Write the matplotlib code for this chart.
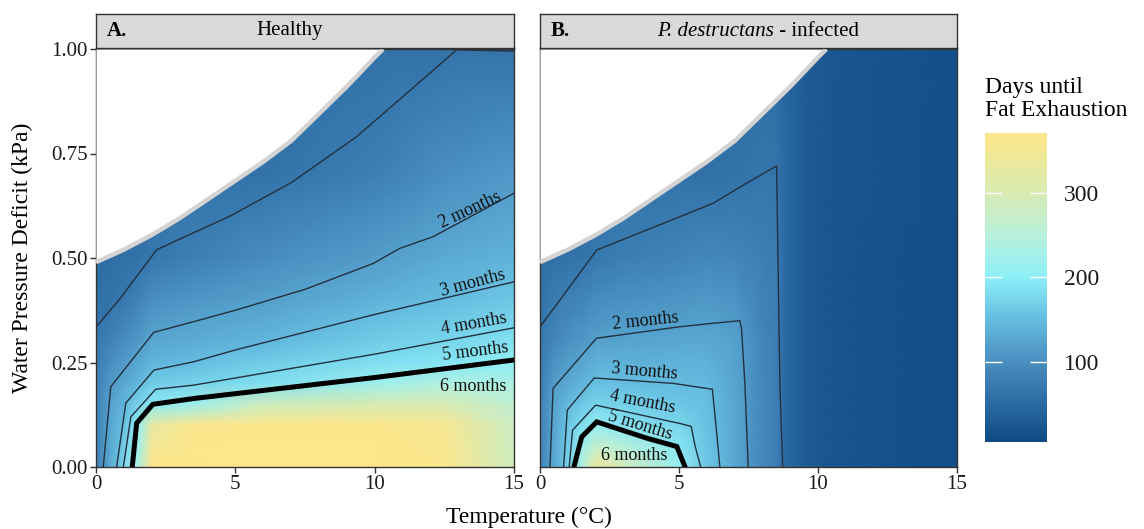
import numpy as np
import matplotlib.pyplot as plt
from matplotlib.colors import LinearSegmentedColormap, Normalize

plt.rcParams['font.family'] = ['Liberation Serif', 'DejaVu Serif']

# ---- data ----
# healthy bats: days until fat exhaustion on a temperature x VPD grid
temp_a = [0, 0.5, 1, 1.5, 2, 3.5, 6, 10, 12.5, 15]
vpd_a = [0, 0.1, 0.15, 0.2, 0.25, 0.3, 0.4, 0.5, 0.7, 1.0]
days_a = [
    [85, 130, 178, 235, 371, 371, 371, 371, 365, 285],
    [82, 125, 155, 205, 330, 365, 368, 368, 355, 280],
    [80, 122, 143, 172, 198, 220, 285, 300, 300, 260],
    [78, 112, 129, 144, 166, 172, 185, 220, 240, 235],
    [75, 98, 115, 128, 143, 151, 166, 185, 192, 205],
    [70, 84, 100, 112, 127, 135, 145, 166, 175, 187],
    [60, 62, 70, 85, 100, 110, 120, 140, 150, 161],
    [55, 57, 60, 62, 68, 82, 97, 117, 132, 141],
    [50, 52, 55, 57, 60, 62, 62, 80, 100, 113],
    [45, 48, 50, 52, 55, 58, 55, 60, 63, 65],
]

# infected bats
temp_b = [0, 0.5, 1, 1.5, 2, 3, 5, 6, 7, 8, 8.5, 8.8, 9.5, 10.5, 12, 15]
vpd_b = [0, 0.05, 0.1, 0.15, 0.2, 0.3, 0.5, 0.7, 1.0]
days_b = [
    [85, 128, 172, 240, 340, 290, 215, 160, 128, 90, 82, 50, 32, 21, 17, 12],
    [84, 127, 165, 215, 270, 250, 192, 158, 128, 90, 82, 50, 32, 21, 17, 12],
    [82, 125, 158, 185, 210, 190, 175, 156, 127, 90, 82, 50, 32, 21, 17, 12],
    [80, 123, 148, 160, 174, 168, 162, 153, 127, 90, 82, 50, 32, 21, 17, 12],
    [77, 117, 130, 142, 155, 152, 150, 148, 126, 90, 82, 50, 32, 21, 17, 12],
    [70, 90, 105, 112, 122, 125, 128, 130, 123, 88, 80, 50, 32, 21, 17, 12],
    [55, 60, 62, 62, 70, 78, 86, 92, 88, 80, 76, 50, 32, 21, 17, 12],
    [50, 55, 56, 57, 60, 62, 62, 60, 62, 67, 66, 48, 32, 22, 18, 13],
    [45, 50, 52, 52, 55, 57, 57, 56, 56, 55, 55, 45, 33, 24, 19, 14],
]

# saturation limit (no data above it)
limit_t = [0, 1, 2, 3, 4, 5, 6, 7, 8, 9, 10, 10.3]
limit_vpd = [0.49, 0.52, 0.555, 0.595, 0.64, 0.685, 0.73, 0.78, 0.845, 0.91, 0.98, 1.0]

# contour lines, healthy
a_c1_t = [0, 0.83, 2.18, 4.8, 7.0, 9.35, 11.15, 12.94, 15]
a_c1_v = [0.335, 0.40, 0.52, 0.60, 0.68, 0.79, 0.894, 0.998, 0.995]
a_c2_t = [0.26, 0.53, 2.07, 3.52, 5.05, 7.5, 9.95, 10.9, 12.1, 15]
a_c2_v = [0, 0.192, 0.322, 0.348, 0.376, 0.425, 0.487, 0.523, 0.551, 0.655]
a_c3_t = [0.74, 1.07, 2.08, 3.52, 5, 10, 15]
a_c3_v = [0, 0.153, 0.232, 0.252, 0.28, 0.365, 0.443]
a_c4_t = [0.98, 1.25, 2.14, 3.52, 10, 15]
a_c4_v = [0, 0.12, 0.186, 0.196, 0.27, 0.333]
a_thick_t = [1.3, 1.46, 2.04, 3.52, 10, 15]
a_thick_v = [0, 0.105, 0.15, 0.164, 0.214, 0.256]

# contour lines, infected
b_c1_t = [0, 2.04, 5.04, 6.23, 7.43, 8.45, 8.51, 8.56, 8.63, 8.73]
b_c1_v = [0.335, 0.519, 0.599, 0.631, 0.679, 0.718, 0.72, 0.5, 0.2, 0]
b_c2_t = [0.36, 0.47, 2.03, 4.96, 6.23, 7.19, 7.25, 7.37, 7.49]
b_c2_v = [0, 0.188, 0.308, 0.335, 0.344, 0.35, 0.33, 0.2, 0]
b_c3_t = [0.85, 0.98, 1.95, 4.8, 6.2, 6.3, 6.47]
b_c3_v = [0, 0.136, 0.213, 0.200, 0.186, 0.12, 0]
b_c4_t = [1.05, 1.17, 2.0, 5.04, 5.44, 5.58, 5.78]
b_c4_v = [0, 0.088, 0.148, 0.104, 0.097, 0.05, 0]
b_thick_t = [1.22, 1.5, 2.04, 3.1, 3.84, 4.92, 5.22]
b_thick_v = [0, 0.072, 0.108, 0.085, 0.069, 0.049, 0]

month_labels = ['2 months', '3 months', '4 months', '5 months', '6 months']

W, H = 1144, 529


def box(x0, y0, x1, y1):
    return [x0 / W, 1 - y1 / H, (x1 - x0) / W, (y1 - y0) / H]


cmap = LinearSegmentedColormap.from_list('fat', [
    (0.0, '#0f4a87'), (0.26, '#4a8ec0'), (0.40, '#66bde0'), (0.533, '#8deff8'),
    (0.67, '#b8f0dc'), (0.806, '#d8ebb2'), (1.0, '#fee68a')])
norm = Normalize(vmin=5, vmax=371)

fig = plt.figure(figsize=(11.44, 5.29), dpi=100)
ax_a = fig.add_axes(box(96, 49, 514, 467))
ax_b = fig.add_axes(box(540, 49, 957, 467))
st_a = fig.add_axes(box(96, 14, 514, 48))
st_b = fig.add_axes(box(540, 14, 957, 48))
cax = fig.add_axes(box(985, 133, 1047, 442))

thin = dict(color='#22313f', lw=1.0, zorder=2)
thick = dict(color='black', lw=3.6, zorder=2, solid_joinstyle='miter')
lab = dict(fontsize=13, color='#111111', ha='center', va='center', zorder=5)

panels = [
    (ax_a, temp_a, vpd_a, days_a,
     [(a_c1_t, a_c1_v), (a_c2_t, a_c2_v), (a_c3_t, a_c3_v), (a_c4_t, a_c4_v)],
     (a_thick_t, a_thick_v),
     [(13.44, 0.616, 25), (13.53, 0.44, 15), (13.56, 0.342, 10), (13.6, 0.276, 7), (13.54, 0.192, 0)]),
    (ax_b, temp_b, vpd_b, days_b,
     [(b_c1_t, b_c1_v), (b_c2_t, b_c2_v), (b_c3_t, b_c3_v), (b_c4_t, b_c4_v)],
     (b_thick_t, b_thick_v),
     [(3.79, 0.348, 6), (3.77, 0.228, -5), (3.7, 0.156, -11), (3.59, 0.10, -17), (3.38, 0.027, 0)]),
]

for ax, tt, vv, dd, lines, thk, labpos in panels:
    T, V = np.meshgrid(tt, vv)
    mesh = ax.pcolormesh(T, V, np.array(dd, dtype=float), shading='gouraud',
                         cmap=cmap, norm=norm, zorder=1, rasterized=True)
    for lt, lv in lines:
        ax.plot(lt, lv, **thin)
    ax.plot(thk[0], thk[1], **thick)
    ax.fill_between(limit_t, limit_vpd, 1.0, color='white', lw=0, zorder=3)
    ax.plot(limit_t, limit_vpd, color='#d4d4d4', lw=3.2, zorder=4, solid_capstyle='butt')
    for text, (x, y, r) in zip(month_labels, labpos):
        ax.text(x, y, text, rotation=r, rotation_mode='anchor', **lab)
    ax.set_xlim(0, 15)
    ax.set_ylim(0, 1.0)
    ax.set_xticks([0, 5, 10, 15])
    ax.tick_params(axis='x', labelsize=15, colors='#333333', labelcolor='#1a1a1a',
                   length=4, width=1, direction='out', pad=2)
    for s in ax.spines.values():
        s.set_color('#333333')
        s.set_linewidth(1)

ax_a.set_yticks([0, 0.25, 0.5, 0.75, 1.0])
ax_a.set_yticklabels(['0.00', '0.25', '0.50', '0.75', '1.00'])
ax_a.tick_params(axis='y', labelsize=15, colors='#333333', labelcolor='#1a1a1a',
                 length=4, width=1, direction='out', pad=2)
ax_b.set_yticks([])

for st, tag in [(st_a, 'A.'), (st_b, 'B.')]:
    st.set_facecolor('#d9d9d9')
    st.set_xlim(0, 15)
    st.set_ylim(0, 1)
    st.set_xticks([])
    st.set_yticks([])
    for s in st.spines.values():
        s.set_color('#333333')
        s.set_linewidth(1)
    st.text(0.38, 0.5, tag, fontsize=15, fontweight='bold', ha='left', va='center')

st_a.text(6.96, 0.5, 'Healthy', fontsize=15, ha='center', va='center')
t_it = st_b.text(4.21, 0.5, 'P. destructans', fontsize=15, style='italic',
                 ha='left', va='center')
st_b.annotate(' - infected', xy=(1, 0), xycoords=t_it, fontsize=15,
              ha='left', va='bottom')

fig.text(529 / W, 1 - 517 / H, 'Temperature (°C)', fontsize=17, ha='center', va='center')
fig.text(22 / W, 1 - 258 / H, 'Water Pressure Deficit (kPa)', fontsize=17,
         rotation=90, ha='center', va='center')

cb = fig.colorbar(mesh, cax=cax)
cb.outline.set_visible(False)
cb.set_ticks([100, 200, 300])
cax.tick_params(axis='y', direction='in', length=12, width=1, color='white',
                left=True, right=True, labelsize=17, labelcolor='#1a1a1a', pad=12)
fig.text(985 / W, 1 - 99 / H, 'Days until\nFat Exhaustion', fontsize=17,
         ha='left', va='center', linespacing=1.15)

fig.savefig('out.png', dpi=100)
